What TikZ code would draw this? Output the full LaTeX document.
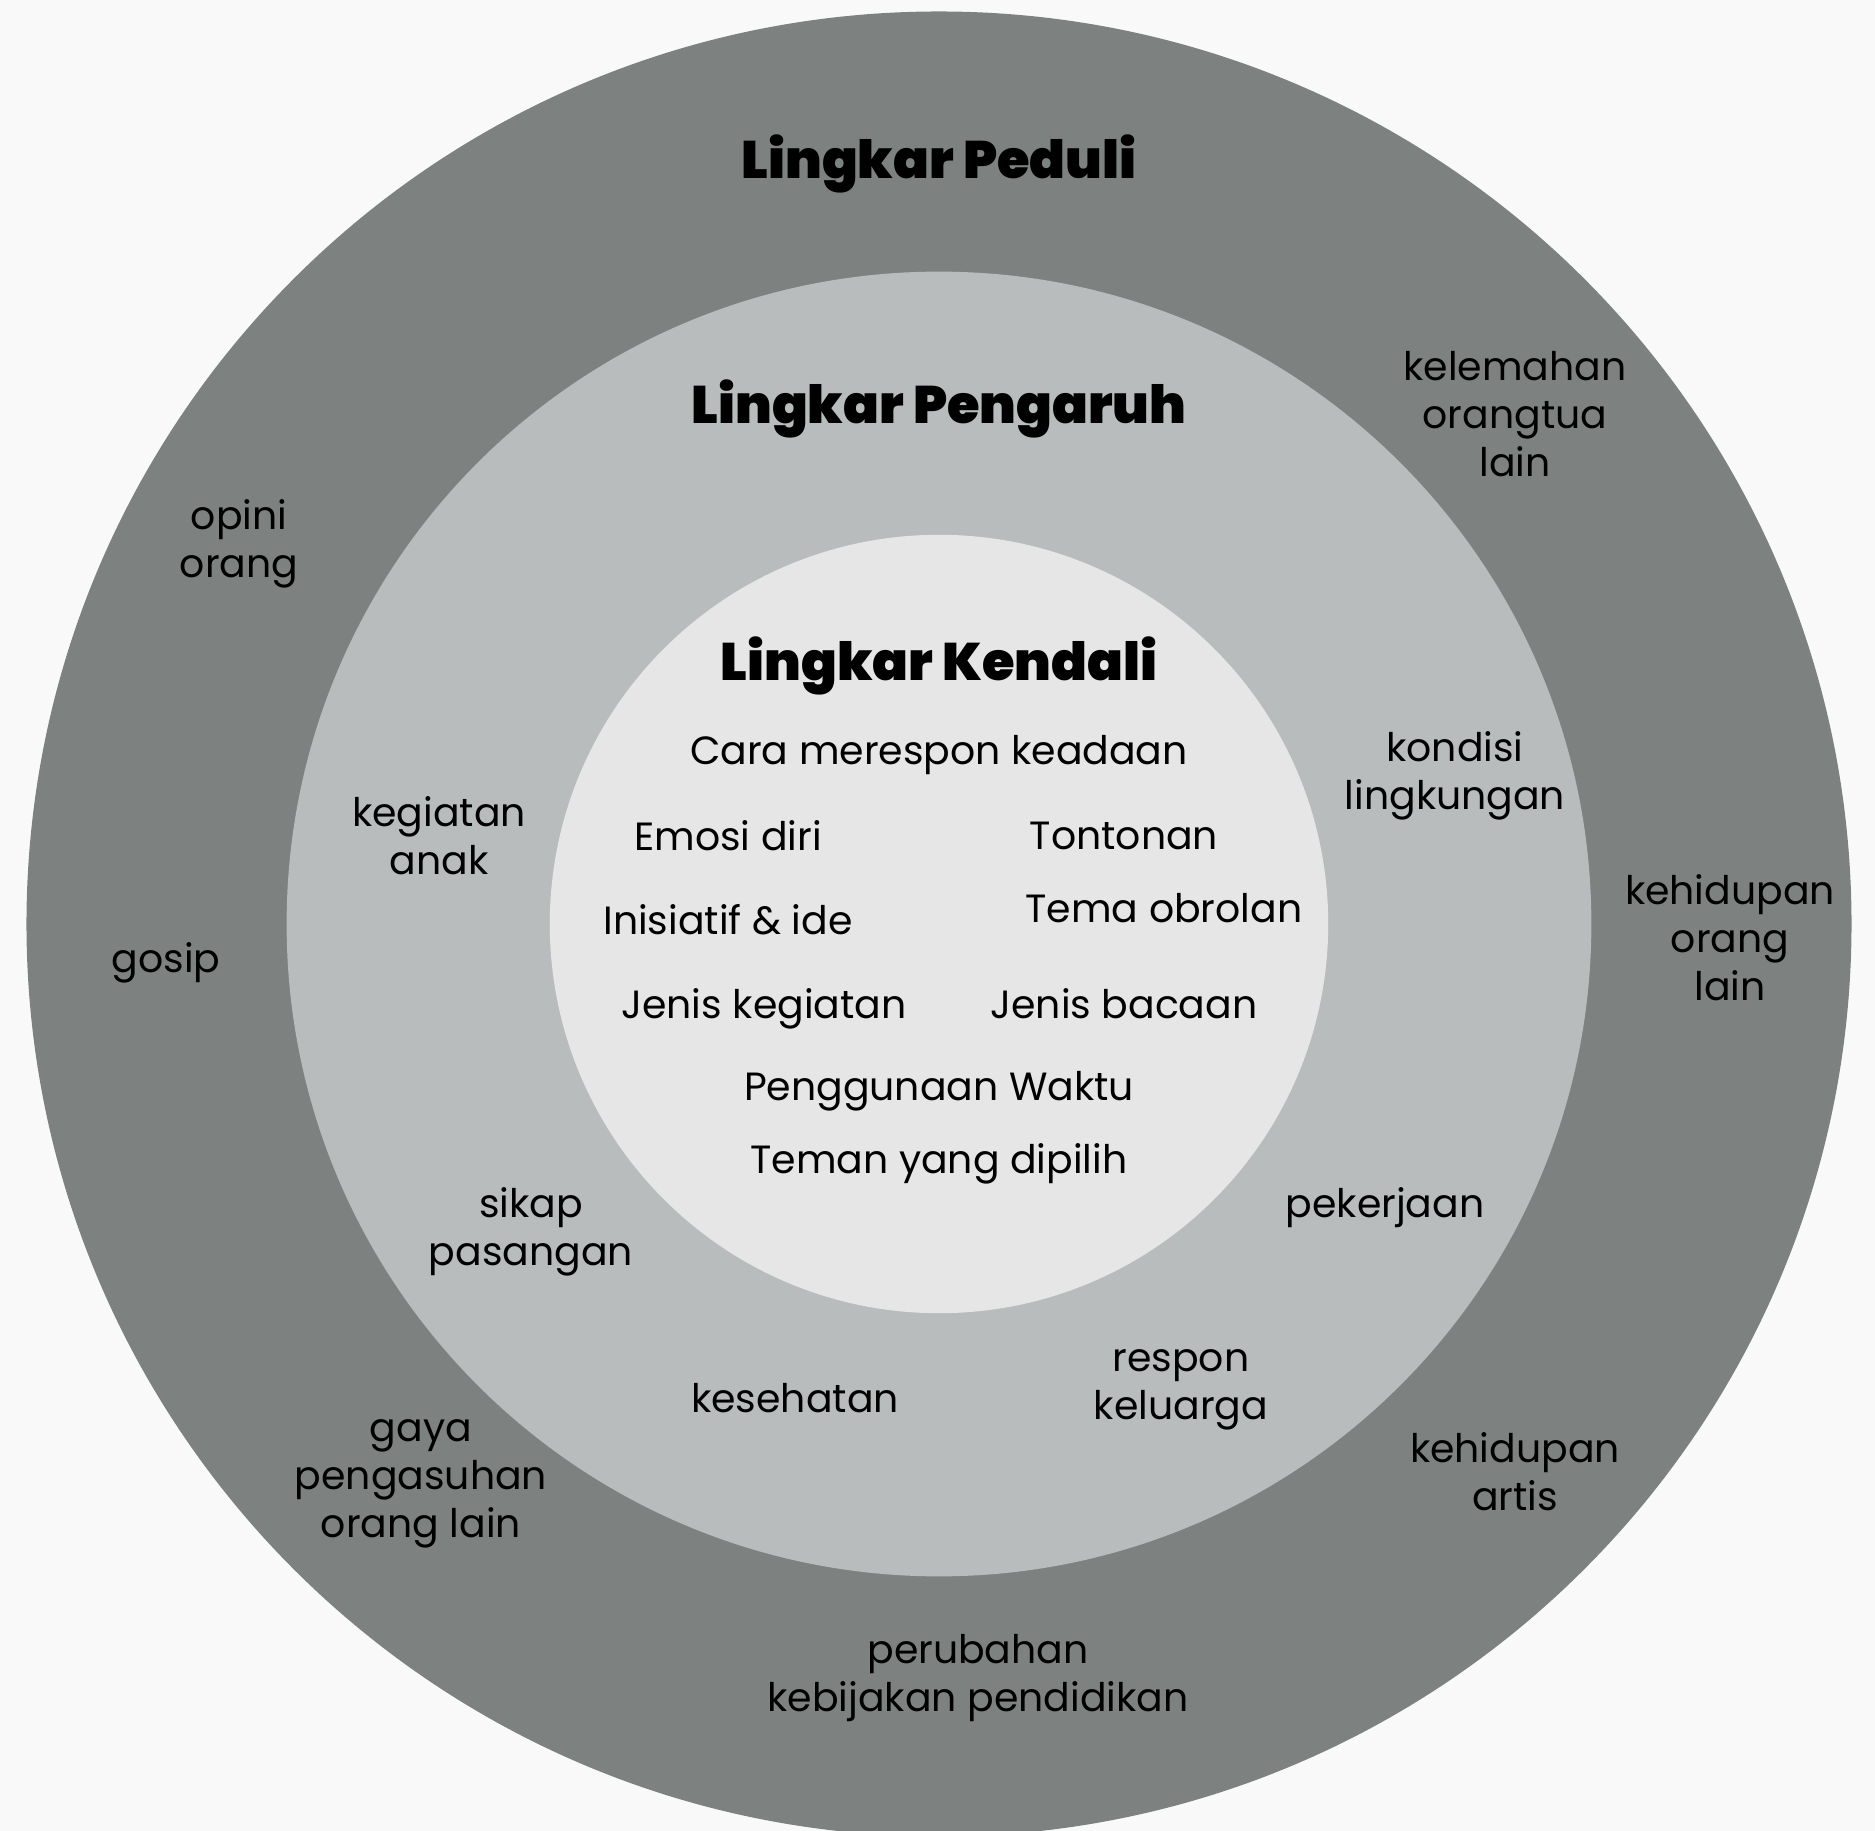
\documentclass[tikz,border=0pt]{standalone}
\usepackage{fontspec}
\setmainfont{Poppins}
\newfontfamily\blackfont{Poppins Black}

\definecolor{bgpaper}{HTML}{F9F9F9}
\definecolor{peduli}{HTML}{7D8281}
\definecolor{pengaruh}{HTML}{B8BCBC}
\definecolor{kendali}{HTML}{E6E6E6}

\tikzset{
  item/.style={align=center, font=\fontsize{11.2}{13.7}\selectfont, inner sep=0pt},
  title/.style={font=\blackfont\fontsize{15}{18}\selectfont, inner sep=0pt}
}

\begin{document}
\begin{tikzpicture}[x=0.01cm, y=-0.01cm]
    % Paper
    \fill[bgpaper] (0,0) rectangle (1875,1831);
    \useasboundingbox (0,0) rectangle (1875,1831);

    % Circles
    \fill[peduli] (939,924) circle [radius=9.12cm];
    \fill[pengaruh] (939,924) circle [radius=6.52cm];
    \fill[kendali] (939,924) circle [radius=3.89cm];

    % Titles
    \node[title] (peduli) at (939,164) {Lingkar Peduli};
    \node[title] (pengaruh) at (939,409) {Lingkar Pengaruh};
    \node[title] (kendali) at (939,666) {Lingkar Kendali};

    % Lingkar Kendali
    \node[item] (respon) at (939,755) {Cara merespon keadaan};
    \node[item] (emosi) at (728,836) {Emosi diri};
    \node[item] (tontonan) at (1124,836) {Tontonan};
    \node[item] (inisiatif) at (728,920) {Inisiatif \& ide};
    \node[item] (tema) at (1164,908) {Tema obrolan};
    \node[item] (jkegiatan) at (764,1009) {Jenis kegiatan};
    \node[item] (bacaan) at (1124,1004) {Jenis bacaan};
    \node[item] (waktu) at (939,1091) {Penggunaan Waktu};
    \node[item] (teman) at (939,1164) {Teman yang dipilih};

    % Lingkar Pengaruh
    \node[item] (kegiatan) at (439,836) {kegiatan\\anak};
    \node[item] (kondisi) at (1455,776) {kondisi\\lingkungan};
    \node[item] (sikap) at (531,1232) {sikap\\pasangan};
    \node[item] (pekerjaan) at (1385,1208) {pekerjaan};
    \node[item] (kesehatan) at (795,1398) {kesehatan};
    \node[item] (keluarga) at (1181,1390) {respon\\keluarga};

    % Lingkar Peduli
    \node[item] (opini) at (239,544) {opini\\orang};
    \node[item] (gosip) at (166,963) {gosip};
    \node[item] (kelemahan) at (1515,414) {kelemahan\\orangtua\\lain};
    \node[item] (kehidupan) at (1730,938) {kehidupan\\orang\\lain};
    \node[item] (gaya) at (421,1484) {gaya\\pengasuhan\\orang lain};
    \node[item] (artis) at (1515,1472) {kehidupan\\artis};
    \node[item] (kebijakan) at (978,1678) {perubahan\\kebijakan pendidikan};
\end{tikzpicture}
\end{document}
